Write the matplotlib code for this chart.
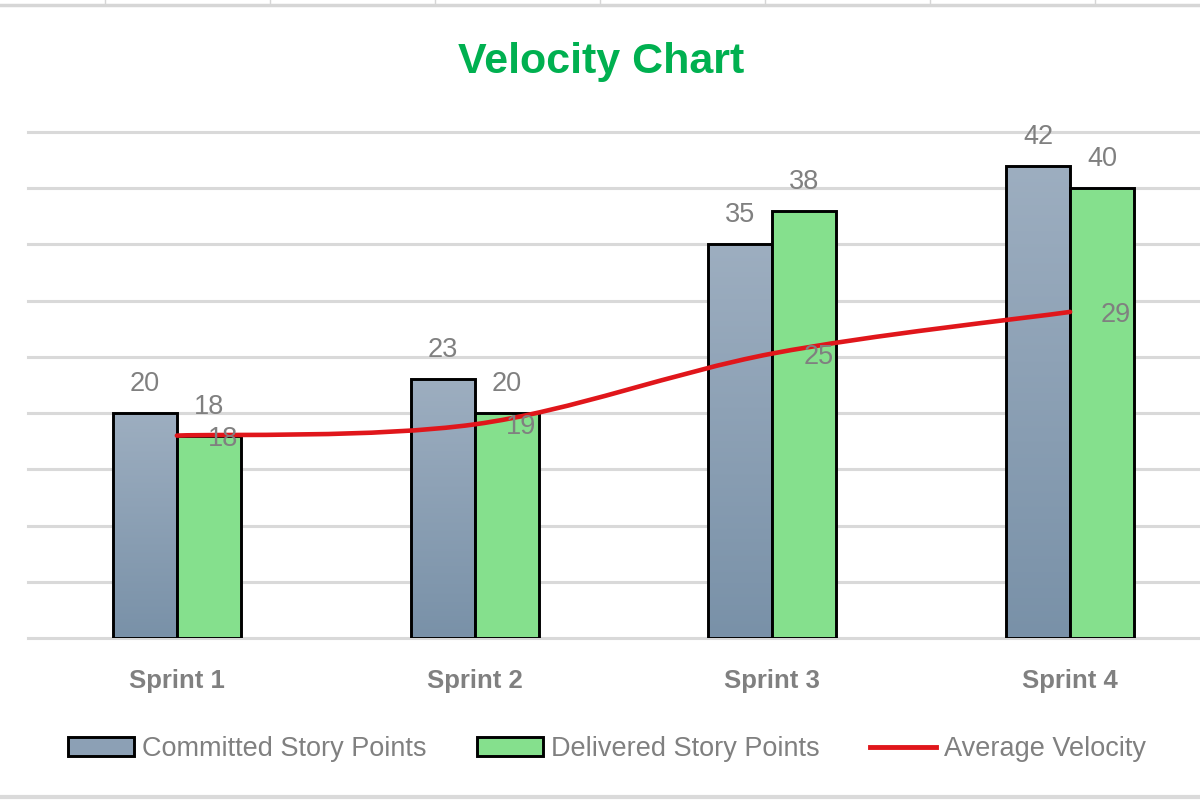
"""Velocity chart: committed vs delivered story points with a smoothed average line."""
import numpy as np
import matplotlib
matplotlib.use("Agg")
import matplotlib.pyplot as plt
from matplotlib.path import Path
from matplotlib.patches import PathPatch, Rectangle, Patch
from matplotlib.lines import Line2D
from matplotlib.colors import LinearSegmentedColormap

sprints = ["Sprint 1", "Sprint 2", "Sprint 3", "Sprint 4"]
committed = [20, 23, 35, 42]
delivered = [18, 20, 38, 40]
avg_velocity = [18, 19, 25.3, 29]

_C_COMMIT_TOP = "#9DAEC0"
_C_COMMIT_BOT = "#7991A8"
_C_DELIVER = "#85E08D"
_C_LINE = "#E0161B"
_C_GRID = "#D9D9D9"
_C_TEXT = "#808080"
_C_TITLE = "#00B050"

plt.rcParams["font.family"] = ["Liberation Sans", "DejaVu Sans"]


def smooth_path(xs, ys):
    # Excel-style smoothed line: cubic Bezier through every point
    pts = np.column_stack([xs, ys]).astype(float)
    n = len(pts)
    verts = [pts[0]]
    codes = [Path.MOVETO]
    for i in range(n - 1):
        p0 = pts[i - 1] if i > 0 else pts[i]
        p1, p2 = pts[i], pts[i + 1]
        p3 = pts[i + 2] if i + 2 < n else pts[i + 1]
        c1 = p1 + (p2 - p0) / 6.0
        c2 = p2 - (p3 - p1) / 6.0
        verts += [c1, c2, p2]
        codes += [Path.CURVE4] * 3
    return Path(verts, codes)


fig = plt.figure(figsize=(12, 8), dpi=100)
ax = fig.add_axes([28 / 1200, 162 / 800, (1219 - 28) / 1200, (638 - 132) / 800])

x = np.arange(len(sprints))
w = 0.215
edge_lw = 2.1
cmap = LinearSegmentedColormap.from_list("commit", [_C_COMMIT_BOT, _C_COMMIT_TOP])
grad = np.linspace(1, 0, 256).reshape(-1, 1)

for xi, val in zip(x, committed):
    rect = Rectangle((xi - w, 0), w, val, facecolor="none", edgecolor="black",
                     lw=edge_lw, zorder=3)
    ax.add_patch(rect)
    im = ax.imshow(grad, extent=[xi - w, xi, 0, val], cmap=cmap, aspect="auto",
                   zorder=2, interpolation="bilinear")
    im.set_clip_path(rect)
    ax.annotate(f"{val}", (xi - w / 2, val), xytext=(0, 16), textcoords="offset pixels",
                ha="center", va="bottom", fontsize=19.5, color=_C_TEXT, zorder=6)

for xi, val in zip(x, delivered):
    ax.add_patch(Rectangle((xi, 0), w, val, facecolor=_C_DELIVER, edgecolor="black",
                           lw=edge_lw, zorder=3))
    ax.annotate(f"{val}", (xi + w / 2, val), xytext=(0, 16), textcoords="offset pixels",
                ha="center", va="bottom", fontsize=19.5, color=_C_TEXT, zorder=6)

ax.add_patch(PathPatch(smooth_path(x, avg_velocity), facecolor="none",
                       edgecolor=_C_LINE, lw=3.3, capstyle="round", zorder=4))
for xi, val in zip(x, avg_velocity):
    ax.annotate(f"{val:.0f}", (xi, val), xytext=(31, -3), textcoords="offset pixels",
                ha="left", va="center", fontsize=19.5, color=_C_TEXT, zorder=6)

ax.set_xlim(-0.5, 3.5)
ax.set_ylim(0, 45)
ax.set_yticks(range(0, 46, 5))
ax.set_yticklabels([])
ax.grid(axis="y", color=_C_GRID, lw=2.2, zorder=0)
for gl in ax.get_ygridlines():
    gl.set_clip_on(False)
ax.set_axisbelow(True)
ax.set_xticks(x)
ax.set_xticklabels(sprints, fontsize=18.5, fontweight="bold", color=_C_TEXT)
ax.tick_params(length=0)
ax.tick_params(axis="x", pad=22)
for s in ax.spines.values():
    s.set_visible(False)

fig.text(601 / 1200, 1 - 62 / 800, "Velocity Chart", ha="center", va="center",
         fontsize=31, fontweight="bold", color=_C_TITLE)

handles = [
    Patch(facecolor="#8CA0B5", edgecolor="black", lw=edge_lw),
    Patch(facecolor=_C_DELIVER, edgecolor="black", lw=edge_lw),
    Line2D([], [], color=_C_LINE, lw=3.5),
]
labels = ["Committed Story Points", "Delivered Story Points", "Average Velocity"]
leg = fig.legend(handles, labels, loc="center", bbox_to_anchor=(607 / 1200, 1 - 749 / 800),
                 ncol=3, frameon=False, fontsize=19.5, handlelength=2.45, handleheight=0.68,
                 handletextpad=0.3, columnspacing=1.85, borderaxespad=0)
for t in leg.get_texts():
    t.set_color(_C_TEXT)

# cropped spreadsheet edges at top and bottom
fig.add_artist(Line2D([0, 1], [1 - 5 / 800] * 2, color="#D6D6D6", lw=2.5))
for px in [105, 270, 435, 600, 765, 930, 1095]:
    fig.add_artist(Line2D([px / 1200] * 2, [1, 1 - 5 / 800], color="#D6D6D6", lw=1))
fig.add_artist(Line2D([0, 1], [1 - 797 / 800] * 2, color="#DADADA", lw=3))

fig.savefig("out.png", dpi=100)
